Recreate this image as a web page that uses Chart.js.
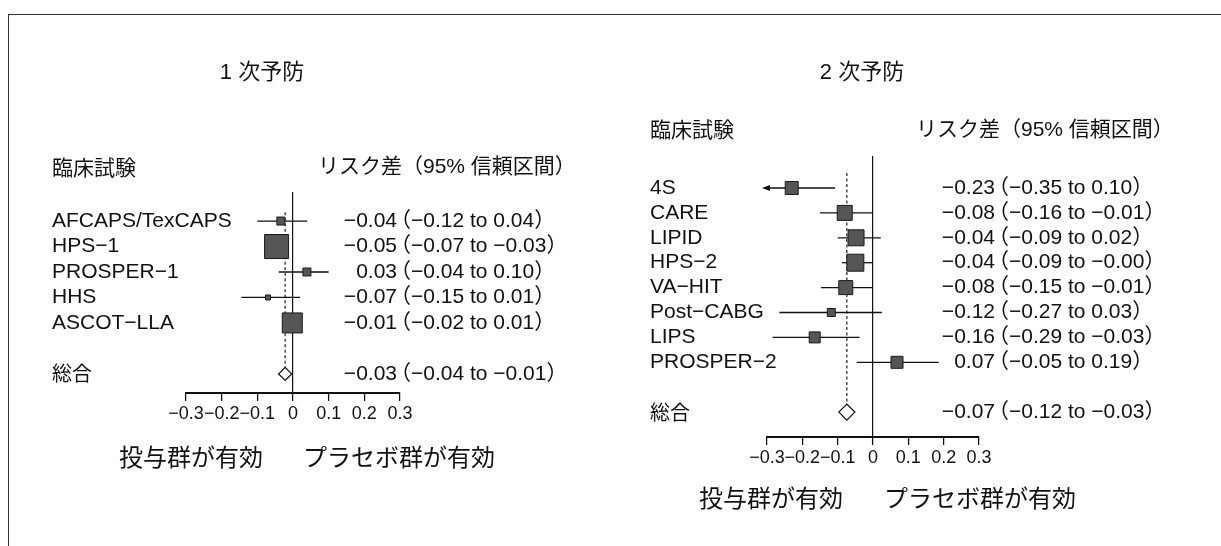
<!DOCTYPE html>
<html lang="ja">
<head>
<meta charset="utf-8">
<title>1次予防・2次予防 リスク差</title>
<script src="https://cdn.jsdelivr.net/npm/chart.js@4.4.0/dist/chart.umd.min.js"></script>
<style>
  body { margin: 0; width: 1221px; height: 546px; background: #fff; position: relative; overflow: hidden;
         font-family: "Liberation Sans", "Noto Sans CJK JP", sans-serif; color: #111; }
  .frame { position: absolute; left: 8px; top: 14px; right: -4px; bottom: -4px;
           border-top: 1.5px solid #333; border-left: 1.5px solid #333; }
  .panel { position: absolute; top: 0; }
  .txt { position: absolute; white-space: nowrap; line-height: 1; }
  .title { font-size: 22px; transform: translate(-50%, -50%); }
  .head { font-size: 21px; transform: translateY(-50%); }
  .foot { font-size: 24px; transform: translateY(-50%); }
</style>
</head>
<body>
<div class="frame"></div>

<div class="panel" style="left:0"><canvas id="primary" width="620" height="546"></canvas></div>
<div class="panel" style="left:620px"><canvas id="secondary" width="601" height="546"></canvas></div>

<div class="txt title" style="left:262px; top:72px">1 次予防</div>
<div class="txt head" style="left:52px; top:167px">臨床試験</div>
<div class="txt head" style="left:318px; top:165px">リスク差（95% 信頼区間）</div>
<div class="txt foot" style="right:958px; top:458px">投与群が有効</div>
<div class="txt foot" style="left:303px; top:458px">プラセボ群が有効</div>

<div class="txt title" style="left:862px; top:72px">2 次予防</div>
<div class="txt head" style="left:650px; top:129px">臨床試験</div>
<div class="txt head" style="left:916px; top:128px">リスク差（95% 信頼区間）</div>
<div class="txt foot" style="right:378px; top:499px">投与群が有効</div>
<div class="txt foot" style="left:884px; top:499px">プラセボ群が有効</div>

<script>
// x axis
const tickValues = [-0.3, -0.2, -0.1, 0, 0.1, 0.2, 0.3];
const tickLabels = ['−0.3', '−0.2', '−0.1', '0', '0.1', '0.2', '0.3'];

// 1次予防 (boxes and lines as drawn, text column as printed)
const primaryTrials = ['AFCAPS/TexCAPS', 'HPS−1', 'PROSPER−1', 'HHS', 'ASCOT−LLA'];
const primaryEst    = [-0.034, -0.046, 0.039, -0.070, -0.002];
const primaryLow    = [-0.100, -0.070, -0.040, -0.145, -0.020];
const primaryHigh   = [ 0.040, -0.030,  0.100,  0.020,  0.010];
const primaryWeight = [8, 24, 8, 5, 20];
const primaryRisk   = ['−0.04（−0.12 to 0.04）', '−0.05（−0.07 to −0.03）', '0.03（−0.04 to 0.10）',
                       '−0.07（−0.15 to 0.01）', '−0.01（−0.02 to 0.01）'];
const primaryPooled     = -0.022;
const primaryPooledRisk = '−0.03（−0.04 to −0.01）';

// 2次予防
const secondaryTrials = ['4S', 'CARE', 'LIPID', 'HPS−2', 'VA−HIT', 'Post−CABG', 'LIPS', 'PROSPER−2'];
const secondaryEst    = [-0.230, -0.080, -0.048, -0.050, -0.077, -0.118, -0.165, 0.068];
const secondaryLow    = [-0.350, -0.150, -0.100, -0.088, -0.147, -0.265, -0.284, -0.046];
const secondaryHigh   = [-0.107,  0.000,  0.022,  0.000,  0.000,  0.025, -0.038, 0.186];
const secondaryWeight = [13, 15, 16, 17, 14, 8, 11, 12];
const secondaryRisk   = ['−0.23（−0.35 to 0.10）', '−0.08（−0.16 to −0.01）', '−0.04（−0.09 to 0.02）',
                         '−0.04（−0.09 to −0.00）', '−0.08（−0.15 to −0.01）', '−0.12（−0.27 to 0.03）',
                         '−0.16（−0.29 to −0.03）', '0.07（−0.05 to 0.19）'];
const secondaryPooled     = -0.074;
const secondaryPooledRisk = '−0.07（−0.12 to −0.03）';

const pooledLabel = '総合';
const textFont = '21px "Liberation Sans", "Noto Sans CJK JP", sans-serif';
const cjkFont  = '20px "Noto Sans CJK JP", sans-serif';

// whiskers, dashed pooled line, text columns
const forestPlugin = {
  id: 'forest',
  beforeDatasetsDraw(chart, args, p) {
    const { ctx, scales: { x, y } } = chart;
    const n = p.trials.length;
    ctx.save();
    const px = x.getPixelForValue(p.pooled);
    ctx.strokeStyle = '#222';
    ctx.lineWidth = 1.2;
    ctx.setLineDash([3, 2.5]);
    ctx.beginPath();
    ctx.moveTo(px, y.getPixelForValue(p.dashFrom));
    ctx.lineTo(px, y.getPixelForValue(n + 1));
    ctx.stroke();
    ctx.setLineDash([]);

    ctx.lineWidth = 1.3;
    ctx.strokeStyle = '#111';
    ctx.fillStyle = '#111';
    p.est.forEach((_, i) => {
      const py = y.getPixelForValue(i);
      const cut = p.low[i] < x.min;
      const x0 = x.getPixelForValue(cut ? x.min : p.low[i]);
      const x1 = x.getPixelForValue(p.high[i]);
      ctx.beginPath();
      ctx.moveTo(x0, py);
      ctx.lineTo(x1, py);
      ctx.stroke();
      if (cut) { // interval runs past the axis -> arrow
        ctx.beginPath();
        ctx.moveTo(x0 - 5, py);
        ctx.lineTo(x0 + 3, py - 3);
        ctx.lineTo(x0 + 3, py + 3);
        ctx.closePath();
        ctx.fill();
      }
    });
    ctx.restore();
  },
  afterDraw(chart, args, p) {
    const { ctx, scales: { y } } = chart;
    const n = p.trials.length;
    ctx.save();
    ctx.fillStyle = '#111';
    ctx.textBaseline = 'middle';
    const riskText = (s, py) => {
      const k = s.indexOf('（');
      ctx.textAlign = 'right';
      ctx.fillText(s.slice(0, k), p.estX, py);
      ctx.textAlign = 'left';
      ctx.fillText(s.slice(k), p.estX - 7, py); // full-width paren carries its own left gap
    };
    ctx.font = textFont;
    p.trials.forEach((t, i) => {
      const py = y.getPixelForValue(i);
      ctx.textAlign = 'left';
      ctx.fillText(t, p.nameX, py);
      riskText(p.risk[i], py);
    });
    const py = y.getPixelForValue(n + 1);
    riskText(p.pooledRisk, py);
    ctx.font = cjkFont;
    ctx.textAlign = 'left';
    ctx.fillText(pooledLabel, p.nameX, py);
    ctx.restore();
  }
};

function makePanel(id, p) {
  const n = p.trials.length;
  return new Chart(document.getElementById(id), {
    type: 'scatter',
    data: {
      datasets: [
        {
          data: p.est.map((v, i) => ({ x: v, y: i })),
          pointStyle: 'rect',
          pointRadius: p.weight.map(w => w / Math.SQRT2),
          backgroundColor: '#555',
          borderColor: '#1a1a1a',
          borderWidth: 1,
          clip: false
        },
        {
          data: [{ x: p.pooled, y: n + 1 }],
          pointStyle: 'rectRot',
          pointRadius: p.diamond,
          backgroundColor: '#fff',
          borderColor: '#111',
          borderWidth: 1.3,
          clip: false
        }
      ]
    },
    options: {
      responsive: false,
      animation: false,
      events: [],
      layout: { padding: p.pad },
      plugins: { legend: { display: false }, tooltip: { enabled: false }, forest: p },
      scales: {
        x: {
          type: 'linear',
          min: -0.3,
          max: 0.3,
          afterBuildTicks: s => { s.ticks = tickValues.map(v => ({ value: v })); },
          afterFit: s => { s.height = 60; },
          ticks: {
            callback: (v, i) => tickLabels[i],
            color: '#111',
            font: { family: '"Liberation Sans Narrow", "Liberation Sans", sans-serif', size: 18 },
            padding: 2,
            maxRotation: 0,
            autoSkip: false
          },
          grid: {
            color: c => (c.tick && c.tick.value === 0 ? '#111' : 'rgba(0,0,0,0)'),
            lineWidth: 1.2,
            tickColor: '#111',
            tickLength: 8,
            tickWidth: 1.3
          },
          border: { display: true, color: '#111', width: 2 }
        },
        y: { type: 'linear', display: false, reverse: true, min: p.yMin, max: p.yMax }
      }
    },
    plugins: [forestPlugin]
  });
}

makePanel('primary', {
  trials: primaryTrials, est: primaryEst, low: primaryLow, high: primaryHigh, weight: primaryWeight,
  risk: primaryRisk, pooled: primaryPooled, pooledRisk: primaryPooledRisk,
  pad: { left: 186, right: 220, top: 192, bottom: 93 },
  yMin: -1.14, yMax: 6.75, nameX: 52, estX: 397, dashFrom: -0.35, diamond: 6.5
});

makePanel('secondary', {
  trials: secondaryTrials, est: secondaryEst, low: secondaryLow, high: secondaryHigh, weight: secondaryWeight,
  risk: secondaryRisk, pooled: secondaryPooled, pooledRisk: secondaryPooledRisk,
  pad: { left: 147, right: 242, top: 156, bottom: 49 },
  yMin: -1.285, yMax: 10.0, nameX: 30, estX: 375, dashFrom: -0.6, diamond: 8
});
</script>
</body>
</html>
